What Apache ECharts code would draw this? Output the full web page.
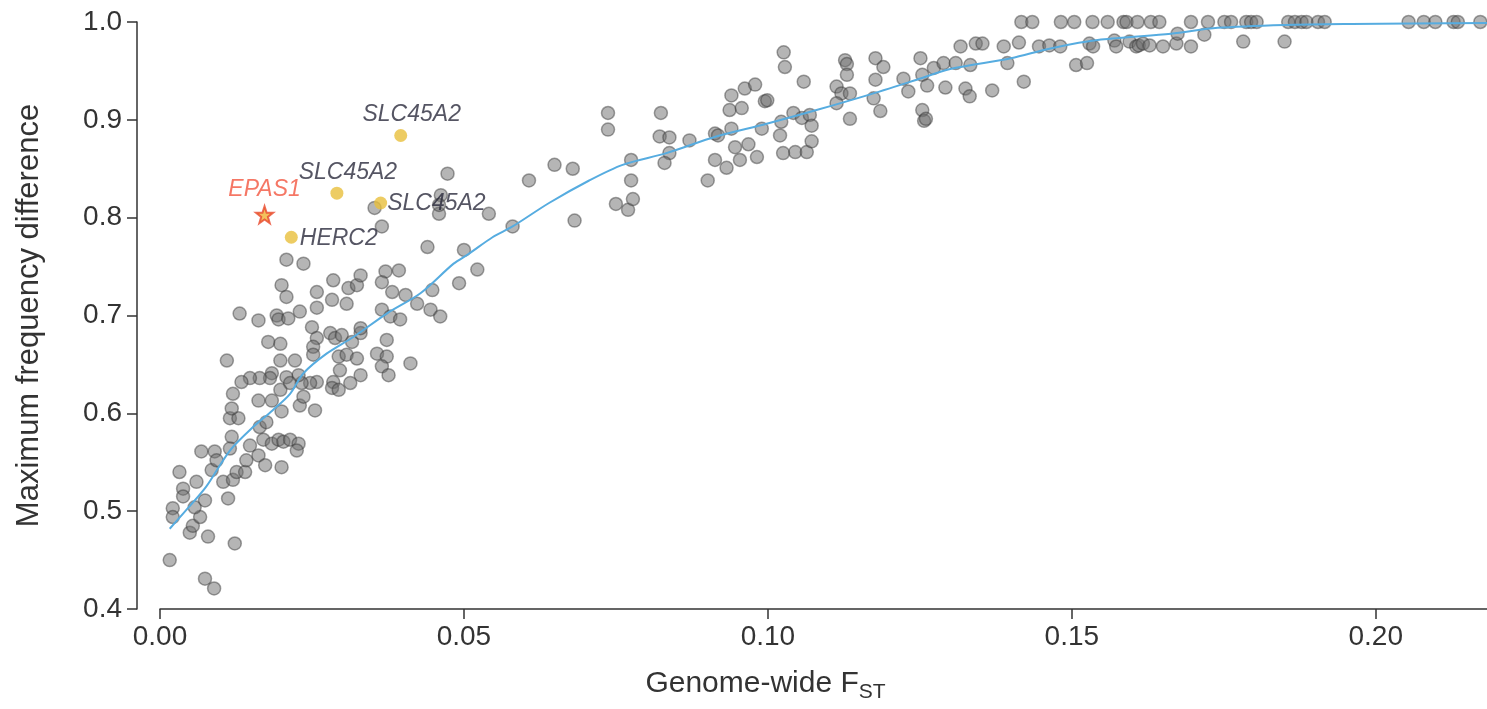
<!DOCTYPE html>
<html>
<head>
<meta charset="utf-8">
<script src="https://cdn.jsdelivr.net/npm/echarts@6/dist/echarts.min.js"></script>
<style>
  html, body { margin: 0; padding: 0; background: #fff; }
  #main { width: 1487px; height: 709px; }
</style>
</head>
<body>
<div id="main"></div>
<script>
// grey points: genome-wide FST / maximum frequency difference
var fstValues = [
  0.0016,0.0074,0.0089,0.0049,0.0054,0.0079,0.0123,0.0066,0.0021,0.0021,
  0.0038,0.0038,0.0032,0.0060,0.0074,0.0057,0.0112,0.0104,0.0120,0.0085,
  0.0126,0.0140,0.0068,0.0090,0.0093,0.0118,0.0115,0.0142,0.0148,0.0162,
  0.0173,0.0200,0.0170,0.0184,0.0195,0.0203,0.0214,0.0228,0.0225,0.0115,
  0.0129,0.0118,0.0164,0.0175,0.0200,0.0230,0.0255,
  0.0208,0.0236,0.0200,0.0208,0.0131,0.0162,0.0192,0.0195,0.0211,0.0230,
  0.0258,0.0258,0.0283,0.0285,0.0307,0.0310,0.0324,0.0330,0.0371,0.0393,
  0.0365,0.0382,0.0404,0.0440,0.0423,0.0448,0.0445,0.0461,0.0365,0.0379,
  0.0395,0.0250,0.0258,0.0252,0.0252,0.0280,0.0288,0.0299,0.0316,0.0330,
  0.0330,0.0373,0.0178,0.0198,0.0110,0.0198,0.0222,0.0294,0.0307,0.0324,
  0.0357,0.0373,0.0365,0.0376,0.0412,0.0330,0.0313,0.0296,0.0285,0.0283,
  0.0294,0.0258,0.0247,0.0233,0.0228,0.0208,0.0184,0.0181,0.0164,0.0148,
  0.0134,0.0120,0.0198,0.0214,0.0236,0.0162,0.0184,
  0.0473,0.0462,0.0459,0.0353,0.0365,0.0541,0.0500,0.0522,0.0492,0.0459,
  0.0580,0.0607,0.0649,0.0679,0.0682,0.0737,0.0737,0.0750,0.0770,0.0778,
  0.0775,0.0775,0.0824,0.0822,0.0838,0.0838,0.0830,0.0871,0.0901,0.0913,
  0.0913,0.0918,0.0932,0.0954,0.0946,0.0940,0.0937,0.0940,0.0957,0.0962,
  0.0979,0.0995,0.0999,0.0968,0.0982,0.0990,0.1026,0.1028,0.1020,0.1022,
  0.1025,0.1045,0.1064,0.1072,0.1042,0.1056,0.1069,0.1072,0.1059,0.1113,
  0.1127,0.1130,0.1130,0.1121,0.1135,0.1113,0.1135,0.1177,0.1190,0.1177,
  0.1174,0.1185,0.1223,0.1231,0.1251,0.1254,0.1262,0.1254,0.1257,0.1260,
  0.1273,0.1289,0.1292,
  0.1317,0.1342,0.1353,0.1309,0.1333,0.1325,0.1332,0.1369,0.1388,0.1413,
  0.1394,0.1421,0.1417,0.1435,0.1446,0.1463,0.1481,0.1482,0.1504,0.1534,
  0.1559,0.1585,0.1590,0.1608,0.1630,0.1644,0.1507,0.1525,0.1529,0.1535,
  0.1570,0.1573,0.1595,0.1606,0.1610,0.1617,0.1628,0.1650,0.1672,0.1674,
  0.1696,0.1696,0.1718,0.1724,0.1751,0.1762,0.1787,0.1795,0.1804,0.1782,
  0.1850,0.1856,0.1867,0.1878,0.1886,0.1905,0.1916,0.2054,0.2079,0.2098,
  0.2128,0.2135,0.2172
];
var freqDiff = [
  0.450,0.431,0.421,0.478,0.485,0.474,0.467,0.494,0.503,0.494,
  0.523,0.515,0.540,0.530,0.511,0.504,0.513,0.530,0.532,0.542,
  0.540,0.540,0.561,0.561,0.552,0.576,0.564,0.552,0.567,0.557,
  0.547,0.545,0.573,0.569,0.573,0.571,0.573,0.569,0.562,0.595,
  0.595,0.605,0.586,0.591,0.602,0.608,0.603,
  0.757,0.753,0.731,0.719,0.702,0.695,0.700,0.696,0.697,0.704,
  0.724,0.708,0.716,0.736,0.712,0.728,0.731,0.741,0.745,0.746,
  0.734,0.724,0.721,0.770,0.712,0.726,0.706,0.699,0.706,0.699,
  0.696,0.688,0.677,0.668,0.660,0.682,0.677,0.680,0.673,0.682,
  0.687,0.675,0.673,0.671,0.654,0.654,0.654,0.658,0.660,0.656,
  0.661,0.658,0.648,0.639,0.651,0.639,0.631,0.644,0.632,0.626,
  0.624,0.632,0.631,0.631,0.639,0.637,0.641,0.636,0.636,0.636,
  0.632,0.620,0.624,0.631,0.617,0.613,0.613,
  0.845,0.823,0.804,0.810,0.791,0.804,0.767,0.747,0.733,0.813,
  0.791,0.838,0.854,0.850,0.797,0.907,0.890,0.814,0.808,0.819,
  0.838,0.859,0.907,0.883,0.882,0.866,0.856,0.879,0.838,0.859,
  0.886,0.884,0.851,0.859,0.872,0.891,0.910,0.925,0.912,0.932,
  0.936,0.919,0.920,0.875,0.862,0.891,0.969,0.954,0.884,0.898,
  0.866,0.867,0.867,0.878,0.907,0.902,0.905,0.894,0.939,0.934,
  0.961,0.957,0.946,0.927,0.927,0.917,0.901,0.963,0.954,0.941,
  0.922,0.909,0.942,0.929,0.963,0.946,0.935,0.910,0.899,0.901,
  0.953,0.958,0.933,
  0.975,0.978,0.978,0.958,0.956,0.932,0.924,0.930,0.975,0.979,
  0.958,0.939,1.000,1.000,0.975,0.976,0.975,1.000,1.000,1.000,
  1.000,1.000,1.000,1.000,1.000,1.000,0.956,0.958,0.978,0.975,
  0.981,0.975,0.980,0.975,0.976,0.978,0.976,0.975,0.978,0.988,
  0.975,1.000,0.987,1.000,1.000,1.000,1.000,1.000,1.000,0.980,
  0.980,1.000,1.000,1.000,1.000,1.000,1.000,1.000,1.000,1.000,
  1.000,1.000,1.000
];

// highlighted genes
var geneNames = ['SLC45A2', 'SLC45A2', 'SLC45A2', 'HERC2'];
var geneFst = [0.0396, 0.0291, 0.0363, 0.0216];
var geneFreq = [0.884, 0.825, 0.815, 0.780];
var starName = 'EPAS1';
var starFst = 0.0172;
var starFreq = 0.803;

// fitted curve
var curveFst = [0.0016,0.0043,0.0076,0.0115,0.0153,0.0185,0.0214,0.0236,0.0274,0.0318,
  0.0373,0.0429,0.0483,0.0508,0.0547,0.0580,0.0640,0.0706,0.0761,0.0833,
  0.0915,0.0998,0.1080,0.1163,0.1245,0.1300,0.1400,0.1465,0.1548,0.1663,
  0.1740,0.1850,0.1960,0.2183];
var curveFreq = [0.482,0.501,0.525,0.562,0.586,0.603,0.620,0.641,0.661,0.678,
  0.702,0.723,0.753,0.763,0.780,0.791,0.815,0.838,0.854,0.866,
  0.883,0.896,0.910,0.925,0.941,0.952,0.963,0.973,0.982,0.988,
  0.994,0.997,0.998,0.999];

var xTicks = [0, 0.05, 0.10, 0.15, 0.20];
var xTickLabels = ['0.00', '0.05', '0.10', '0.15', '0.20'];

var greyData = fstValues.map(function (v, i) { return [v, freqDiff[i]]; });
var curveData = curveFst.map(function (v, i) { return [v, curveFreq[i]]; });
var labelPos = ['top', 'top', 'right', 'right'];
var labelOffset = [[11, 1], [11, 1], [-4, 1], [-2, 1]];
var geneData = geneNames.map(function (n, i) {
  return {
    name: n,
    value: [geneFst[i], geneFreq[i]],
    label: { position: labelPos[i], offset: labelOffset[i] }
  };
});

var font = 'Liberation Sans, Arial, Helvetica, sans-serif';
var myChart = echarts.init(document.getElementById('main'));
myChart.setOption({
  animation: false,
  grid: { left: 160, right: 0, top: 22, bottom: 100, containLabel: false },
  xAxis: {
    type: 'value',
    min: 0,
    max: 0.2183,
    name: 'Genome-wide F{sub|ST}',
    nameLocation: 'middle',
    nameGap: 56,
    nameTextStyle: {
      fontFamily: font, fontSize: 30, color: '#333', padding: [0, 116, 0, 0],
      rich: { sub: { fontFamily: font, fontSize: 21, color: '#333', verticalAlign: 'bottom', padding: [17, 0, 0, 0] } }
    },
    splitLine: { show: false },
    axisLine: { lineStyle: { color: '#333', width: 1.5 } },
    axisTick: { customValues: xTicks, length: 10, lineStyle: { color: '#333', width: 1.5 } },
    axisLabel: {
      customValues: xTicks,
      margin: 14,
      fontFamily: font, fontSize: 28, color: '#333',
      formatter: function (v) {
        var i = xTicks.findIndex(function (t) { return Math.abs(t - v) < 1e-9; });
        return i >= 0 ? xTickLabels[i] : '';
      }
    }
  },
  yAxis: {
    type: 'value',
    min: 0.4,
    max: 1.0,
    interval: 0.1,
    offset: 23,
    name: 'Maximum frequency difference',
    nameLocation: 'middle',
    nameGap: 92,
    nameTextStyle: { fontFamily: font, fontSize: 31, color: '#333' },
    splitLine: { show: false },
    axisLine: { show: true, onZero: false, lineStyle: { color: '#333', width: 1.5 } },
    axisTick: { show: true, length: 10, lineStyle: { color: '#333', width: 1.5 } },
    axisLabel: {
      margin: 15, fontFamily: font, fontSize: 28, color: '#333',
      formatter: function (v) { return v.toFixed(1); }
    }
  },
  series: [
    {
      type: 'scatter',
      data: greyData,
      clip: false,
      symbolSize: 13,
      itemStyle: { color: 'rgba(110,110,110,0.64)', borderColor: 'rgba(55,55,55,0.58)', borderWidth: 1.5 },
      z: 2
    },
    {
      type: 'line',
      data: curveData,
      smooth: 0.3,
      showSymbol: false,
      lineStyle: { color: '#56ace0', width: 2 },
      z: 3
    },
    {
      type: 'scatter',
      data: geneData,
      clip: false,
      symbolSize: 13,
      itemStyle: { color: '#e9bf3c' },
      label: {
        show: true,
        formatter: '{b}',
        fontFamily: font, fontStyle: 'italic', fontSize: 23, color: '#2a2a3c',
        distance: 4
      },
      z: 4
    },
    {
      type: 'scatter',
      data: [{ name: starName, value: [starFst, starFreq] }],
      clip: false,
      symbol: 'path://M50,0 L61.8,35.1 L98.1,35.1 L68.8,56.8 L79.4,90.5 L50,70 L20.6,90.5 L31.2,56.8 L1.9,35.1 L38.2,35.1 Z',
      symbolSize: 17,
      itemStyle: { color: '#f0b233', borderColor: '#e9472d', borderWidth: 2 },
      label: {
        show: true, position: 'top', distance: 4, formatter: '{b}',
        fontFamily: font, fontStyle: 'italic', fontSize: 23, color: '#f2553f'
      },
      z: 5
    }
  ]
});
</script>
</body>
</html>
